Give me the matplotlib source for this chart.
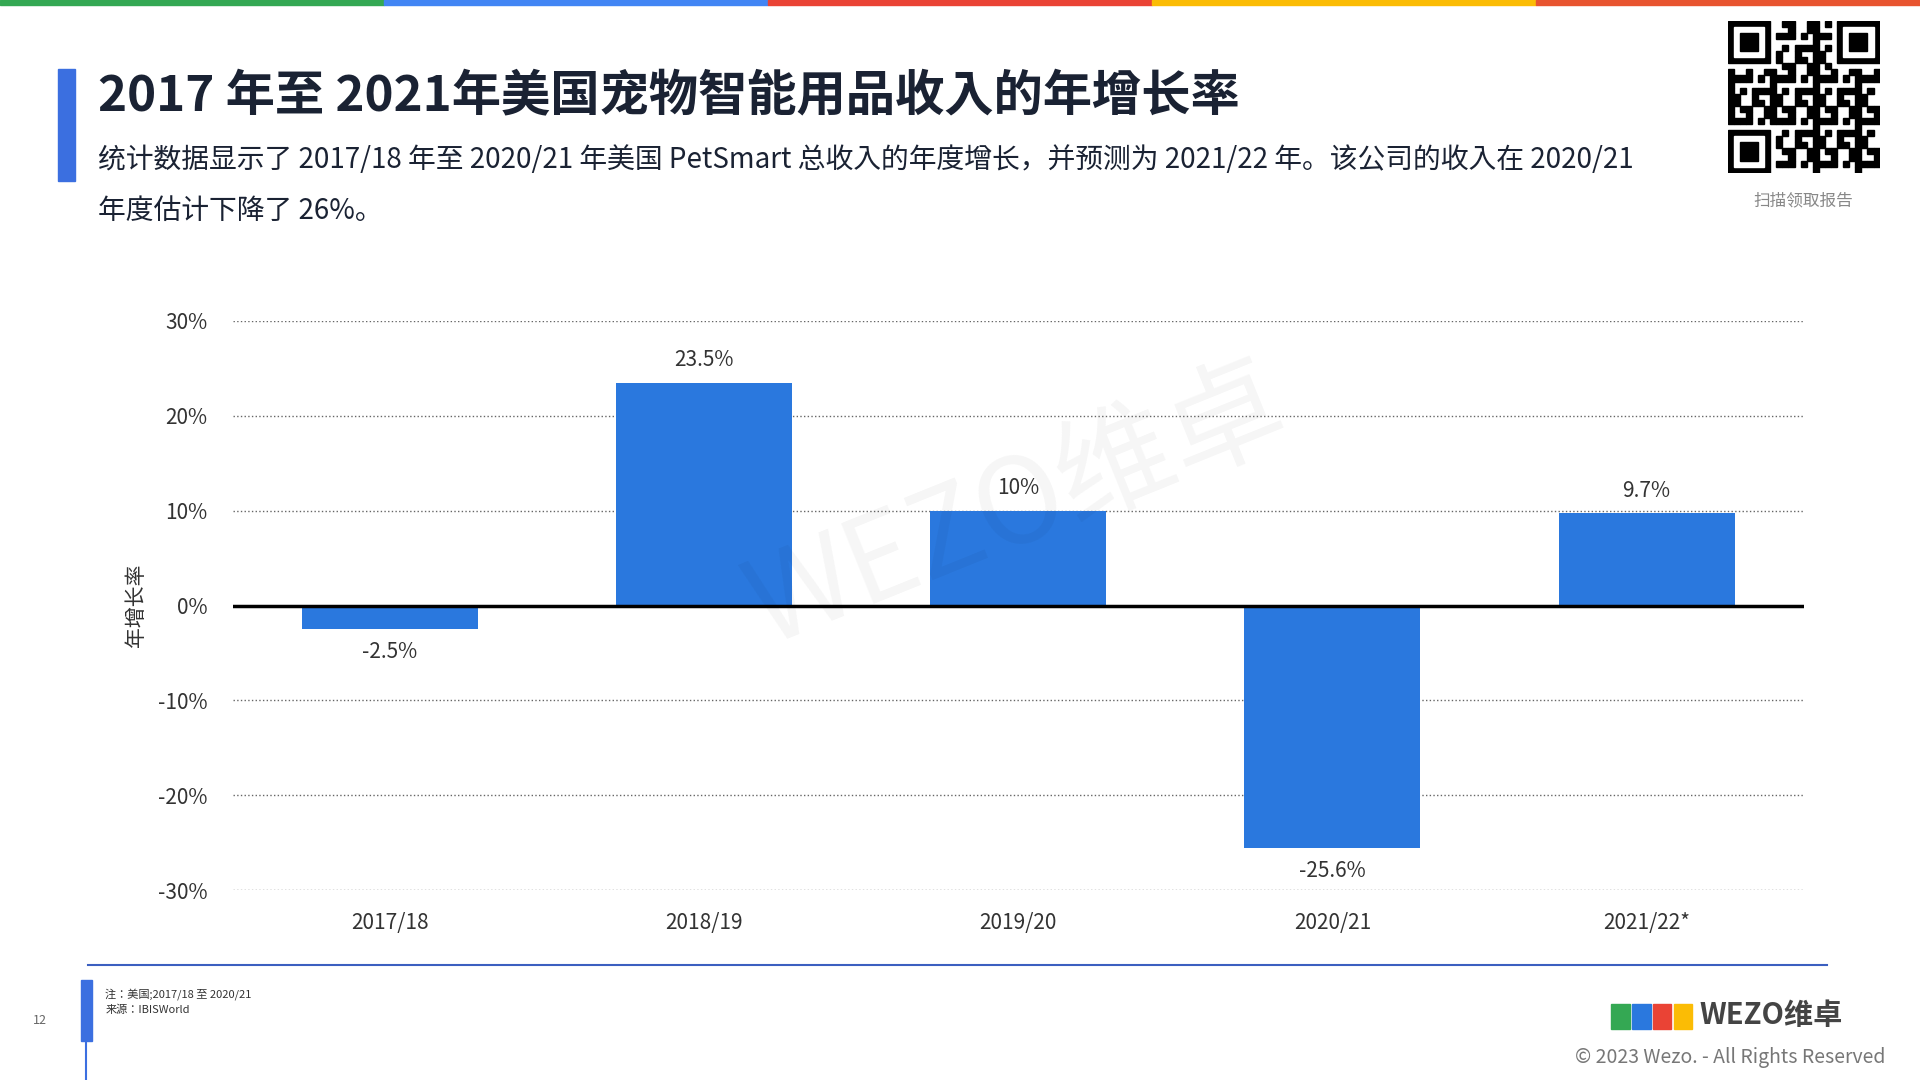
import matplotlib
matplotlib.use("Agg")
import matplotlib.pyplot as plt
from matplotlib import font_manager
from matplotlib.patches import Rectangle

cjk = [f.name for f in font_manager.fontManager.ttflist if "CJK" in f.name]
pref = [n for n in ["Noto Sans CJK SC", "Noto Sans CJK JP", "Noto Sans CJK TC", "Noto Sans CJK KR"] if n in cjk] or cjk
plt.rcParams["font.family"] = "sans-serif"
plt.rcParams["font.sans-serif"] = pref[:1] + ["Open Sans", "DejaVu Sans"]

categories = ["2017/18", "2018/19", "2019/20", "2020/21", "2021/22*"]
values = [-2.5, 23.5, 10.0, -25.6, 9.7]
labels = ["-2.5%", "23.5%", "10%", "-25.6%", "9.7%"]
yticks = [-30, -20, -10, 0, 10, 20, 30]

W, H = 1568.0, 882.0
def fx(x): return x / W
def fy(y): return 1 - y / H

fig = plt.figure(figsize=(19.2, 10.8), dpi=100)
fig.patch.set_facecolor("white")

cols = ["#34a853", "#4285f4", "#ea4335", "#fbbc05", "#e8542f"]
for i, c in enumerate(cols):
    fig.add_artist(Rectangle((i / 5, fy(4)), 1 / 5, 4 / H, color=c, transform=fig.transFigure))

fig.add_artist(Rectangle((fx(47), fy(148)), fx(14), 92 / H, color="#3b6fe0", transform=fig.transFigure))
fig.text(fx(80), fy(78), "2017 年至 2021年美国宠物智能用品收入的年增长率", fontsize=35.5,
         fontweight="bold", color="#1a2233", va="center")
fig.text(fx(80), fy(131), "统计数据显示了 2017/18 年至 2020/21 年美国 PetSmart 总收入的年度增长，并预测为 2021/22 年。该公司的收入在 2020/21",
         fontsize=20, color="#1a2233", va="center")
fig.text(fx(80), fy(172), "年度估计下降了 26%。", fontsize=20, color="#1a2233", va="center")

qr = fig.add_axes([fx(1411), fy(141), fx(124), 124 / H])
qr.set_xlim(0, 25); qr.set_ylim(0, 25); qr.axis("off")
for (x0, y0) in [(0, 18), (18, 18), (0, 0)]:
    qr.add_patch(Rectangle((x0, y0), 7, 7, color="black"))
    qr.add_patch(Rectangle((x0 + 1, y0 + 1), 5, 5, color="white"))
    qr.add_patch(Rectangle((x0 + 2, y0 + 2), 3, 3, color="black"))
for i in range(0, 25):
    for j in range(0, 25):
        if (i < 8 and j < 8) or (i < 8 and j > 16) or (i > 16 and j > 16):
            continue
        if ((i * i * 3 + j * 7 + i * j * 5) % 7) < 3:
            qr.add_patch(Rectangle((i, j), 1, 1, color="black"))
fig.text(fx(1473), fy(164), "扫描领取报告", fontsize=12, color="#888888", ha="center", va="center")

ax = fig.add_axes([fx(190), fy(727), fx(1473 - 190), (727 - 262) / H])
x = range(len(categories))
ax.bar(x, values, width=0.56, color="#2a78de", zorder=3)
ax.set_xlim(-0.5, len(categories) - 0.5)
ax.set_ylim(-30, 30)
ax.set_yticks(yticks)
ax.set_yticklabels([f"{t}%" for t in yticks])
ax.set_xticks(list(x))
ax.set_xticklabels(categories)
ax.tick_params(length=0, labelsize=15, colors="#333333", pad=16)
ax.tick_params(axis="y", pad=18)
for s in ax.spines.values():
    s.set_visible(False)
ax.grid(axis="y", linestyle=":", color="#666666", linewidth=1, zorder=0)
ax.axhline(0, color="black", linewidth=2.5, zorder=4)
for i, (v, l) in enumerate(zip(values, labels)):
    off = 1.2 if v >= 0 else -1.2
    ax.text(i, v + off, l, ha="center", va="bottom" if v >= 0 else "top", fontsize=15, color="#333333")
ax.set_ylabel("年增长率", fontsize=15, color="#333333", labelpad=8)

fig.text(0.53, 0.53, "WEZO维卓", fontsize=85, color="#000000", alpha=0.04, rotation=22,
         ha="center", va="center")

fig.add_artist(plt.Line2D([fx(72), fx(1492)], [fy(788), fy(788)], color="#3b5fc0", linewidth=1.5))
fig.add_artist(Rectangle((fx(66), fy(850)), fx(9), 50 / H, color="#3b6fe0", transform=fig.transFigure))
fig.add_artist(plt.Line2D([fx(70), fx(70)], [fy(882), fy(850)], color="#3b6fe0", linewidth=1.5))
fig.text(fx(33), fy(833), "12", fontsize=9, color="#666666", ha="center", va="center")
fig.text(fx(86), fy(812), "注：美国;2017/18 至 2020/21", fontsize=8, color="#333333", va="center")
fig.text(fx(86), fy(825), "来源：IBISWorld", fontsize=8, color="#333333", va="center")
fig.text(fx(1388), fy(829), "WEZO维卓", fontsize=21, fontweight="bold", color="#444444", va="center")
for k, c in enumerate(["#34a853", "#2a78de", "#ea4335", "#fbbc05"]):
    fig.add_artist(Rectangle((fx(1316 + k * 17), fy(840)), fx(15), 20 / H, color=c, transform=fig.transFigure))
fig.text(fx(1540), fy(864), "© 2023 Wezo. - All Rights Reserved", fontsize=14, color="#777777",
         ha="right", va="center")

fig.savefig("out.png", dpi=100)
